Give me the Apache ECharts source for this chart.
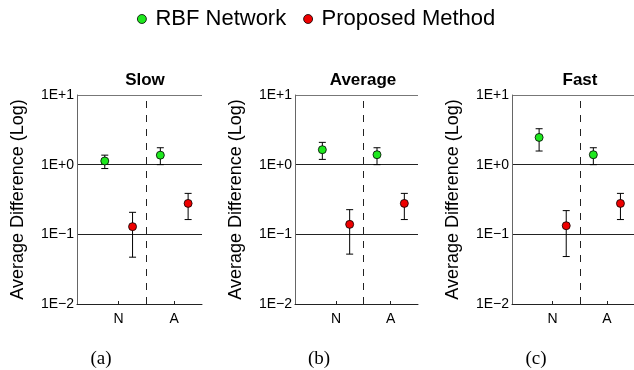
<!DOCTYPE html>
<html>
<head>
<meta charset="utf-8">
<script src="https://cdn.jsdelivr.net/npm/echarts@6/dist/echarts.min.js"></script>
<style>
  html, body { margin: 0; padding: 0; background: #fff; }
  #main { width: 634px; height: 370px; }
</style>
</head>
<body>
<div id="main"></div>
<script>
// data
var categories = ['N', 'A'];
var panelTitles = ['Slow', 'Average', 'Fast'];
var panelCaptions = ['(a)', '(b)', '(c)'];

var rbfMean = [[1.13, 1.37], [1.64, 1.39], [2.46, 1.39]];
var rbfLow  = [[0.88, 1.00], [1.19, 1.00], [1.57, 1.00]];
var rbfHigh = [[1.37, 1.75], [2.09, 1.75], [3.28, 1.75]];

var propMean = [[0.129, 0.278], [0.139, 0.278], [0.133, 0.278]];
var propLow  = [[0.047, 0.163], [0.052, 0.163], [0.048, 0.163]];
var propHigh = [[0.207, 0.387], [0.226, 0.387], [0.219, 0.387]];

var yTickLabels = { '-2': '1E\u22122', '-1': '1E\u22121', '0': '1E+0', '1': '1E+1' };

// layout
var font = 'Liberation Sans, Arial, sans-serif';
var gridLefts = [77, 295, 512];
var gridWidths = [125, 123, 125];
// x positions on a 0..9 value axis: category centre, offsets for the two methods
function catX(i) { return 3 + 4 * i; }
var offs = { rbf: -1, prop: 1 };

var grids = [], xAxes = [], yAxes = [], series = [], titles = [];

function errorBars(mean, low, high, off) {
    return categories.map(function (c, i) {
        return [catX(i) + off, low[i], high[i]];
    });
}

function renderErr(params, api) {
    var x = api.value(0);
    var p1 = api.coord([x, api.value(1)]);
    var p2 = api.coord([x, api.value(2)]);
    var w = 3.5;
    var st = { stroke: '#000', lineWidth: 1 };
    return {
        type: 'group',
        children: [
            { type: 'line', shape: { x1: p1[0], y1: p1[1], x2: p2[0], y2: p2[1] }, style: st },
            { type: 'line', shape: { x1: p1[0] - w, y1: p1[1], x2: p1[0] + w, y2: p1[1] }, style: st },
            { type: 'line', shape: { x1: p2[0] - w, y1: p2[1], x2: p2[0] + w, y2: p2[1] }, style: st }
        ]
    };
}

for (var k = 0; k < 3; k++) {
    grids.push({ left: gridLefts[k], top: 95, width: gridWidths[k], height: 209 });

    xAxes.push({
        type: 'value', gridIndex: k, min: 0, max: 9,
        splitLine: { show: false },
        axisLine: { show: true, lineStyle: { color: '#222', width: 1 } },
        axisTick: { show: true, inside: true, length: 3, customValues: categories.map(function (c, i) { return catX(i); }), lineStyle: { color: '#222' } },
        axisLabel: {
            show: true, customValues: categories.map(function (c, i) { return catX(i); }),
            formatter: function (v) { return categories[(v - 3) / 4]; },
            fontFamily: font, fontSize: 14, color: '#000', margin: 8
        }
    });

    yAxes.push({
        type: 'log', logBase: 10, gridIndex: k, min: 0.01, max: 10,
        name: 'Average Difference (Log)', nameLocation: 'middle', nameGap: 50,
        nameTextStyle: { fontFamily: font, fontSize: 18, color: '#000' },
        axisLine: { show: true, lineStyle: { color: '#666', width: 1 } },
        axisTick: { show: false },
        axisLabel: {
            fontFamily: font, fontSize: 14, color: '#000', margin: 3,
            formatter: function (v) { return yTickLabels[String(Math.round(Math.log10(v)))]; }
        },
        splitLine: { show: true, lineStyle: { color: ['#222', '#222', '#222', '#777'], width: 1 } }
    });

    series.push({
        type: 'custom', name: 'rbfErr', xAxisIndex: k, yAxisIndex: k,
        renderItem: renderErr, silent: true, z: 3,
        data: errorBars(rbfMean[k], rbfLow[k], rbfHigh[k], offs.rbf)
    });
    series.push({
        type: 'custom', name: 'propErr', xAxisIndex: k, yAxisIndex: k,
        renderItem: renderErr, silent: true, z: 3,
        data: errorBars(propMean[k], propLow[k], propHigh[k], offs.prop)
    });
    series.push({
        type: 'scatter', name: 'RBF Network', xAxisIndex: k, yAxisIndex: k,
        symbol: 'circle', symbolSize: 8, z: 5,
        itemStyle: { color: '#1ee81e', borderColor: '#000', borderWidth: 0.8, opacity: 1 },
        data: rbfMean[k].map(function (v, i) { return [catX(i) + offs.rbf, v]; })
    });
    series.push({
        type: 'scatter', name: 'Proposed Method', xAxisIndex: k, yAxisIndex: k,
        symbol: 'circle', symbolSize: 8, z: 5,
        itemStyle: { color: '#ee0000', borderColor: '#000', borderWidth: 0.8, opacity: 1 },
        data: propMean[k].map(function (v, i) { return [catX(i) + offs.prop, v]; }),
        markLine: {
            silent: true, symbol: 'none', animation: false,
            label: { show: false },
            lineStyle: { color: '#222', type: [7, 7], width: 1 },
            data: [{ xAxis: (catX(0) + catX(1)) / 2 }]
        }
    });

    titles.push({
        text: panelTitles[k], left: gridLefts[k] + 63, top: 67, textAlign: 'center',
        textStyle: { fontFamily: font, fontSize: 17, fontWeight: 'bold', color: '#000' }
    });
    titles.push({
        text: panelCaptions[k], left: gridLefts[k] + 19, top: 345, textAlign: 'center',
        textStyle: { fontFamily: 'Liberation Serif, Times New Roman, serif', fontSize: 19, fontWeight: 'normal', color: '#000' }
    });
}

var chart = echarts.init(document.getElementById('main'));
chart.setOption({
    animation: false,
    backgroundColor: '#fff',
    title: titles,
    legend: {
        data: ['RBF Network', 'Proposed Method'],
        left: 132, top: 3,
        icon: 'circle', itemWidth: 9, itemHeight: 9, itemGap: 17,
        itemStyle: { borderColor: '#000', borderWidth: 0.8 },
        textStyle: { fontFamily: font, fontSize: 22, color: '#000', padding: [0, 0, 0, 4] }
    },
    grid: grids,
    xAxis: xAxes,
    yAxis: yAxes,
    series: series
});
</script>
</body>
</html>
